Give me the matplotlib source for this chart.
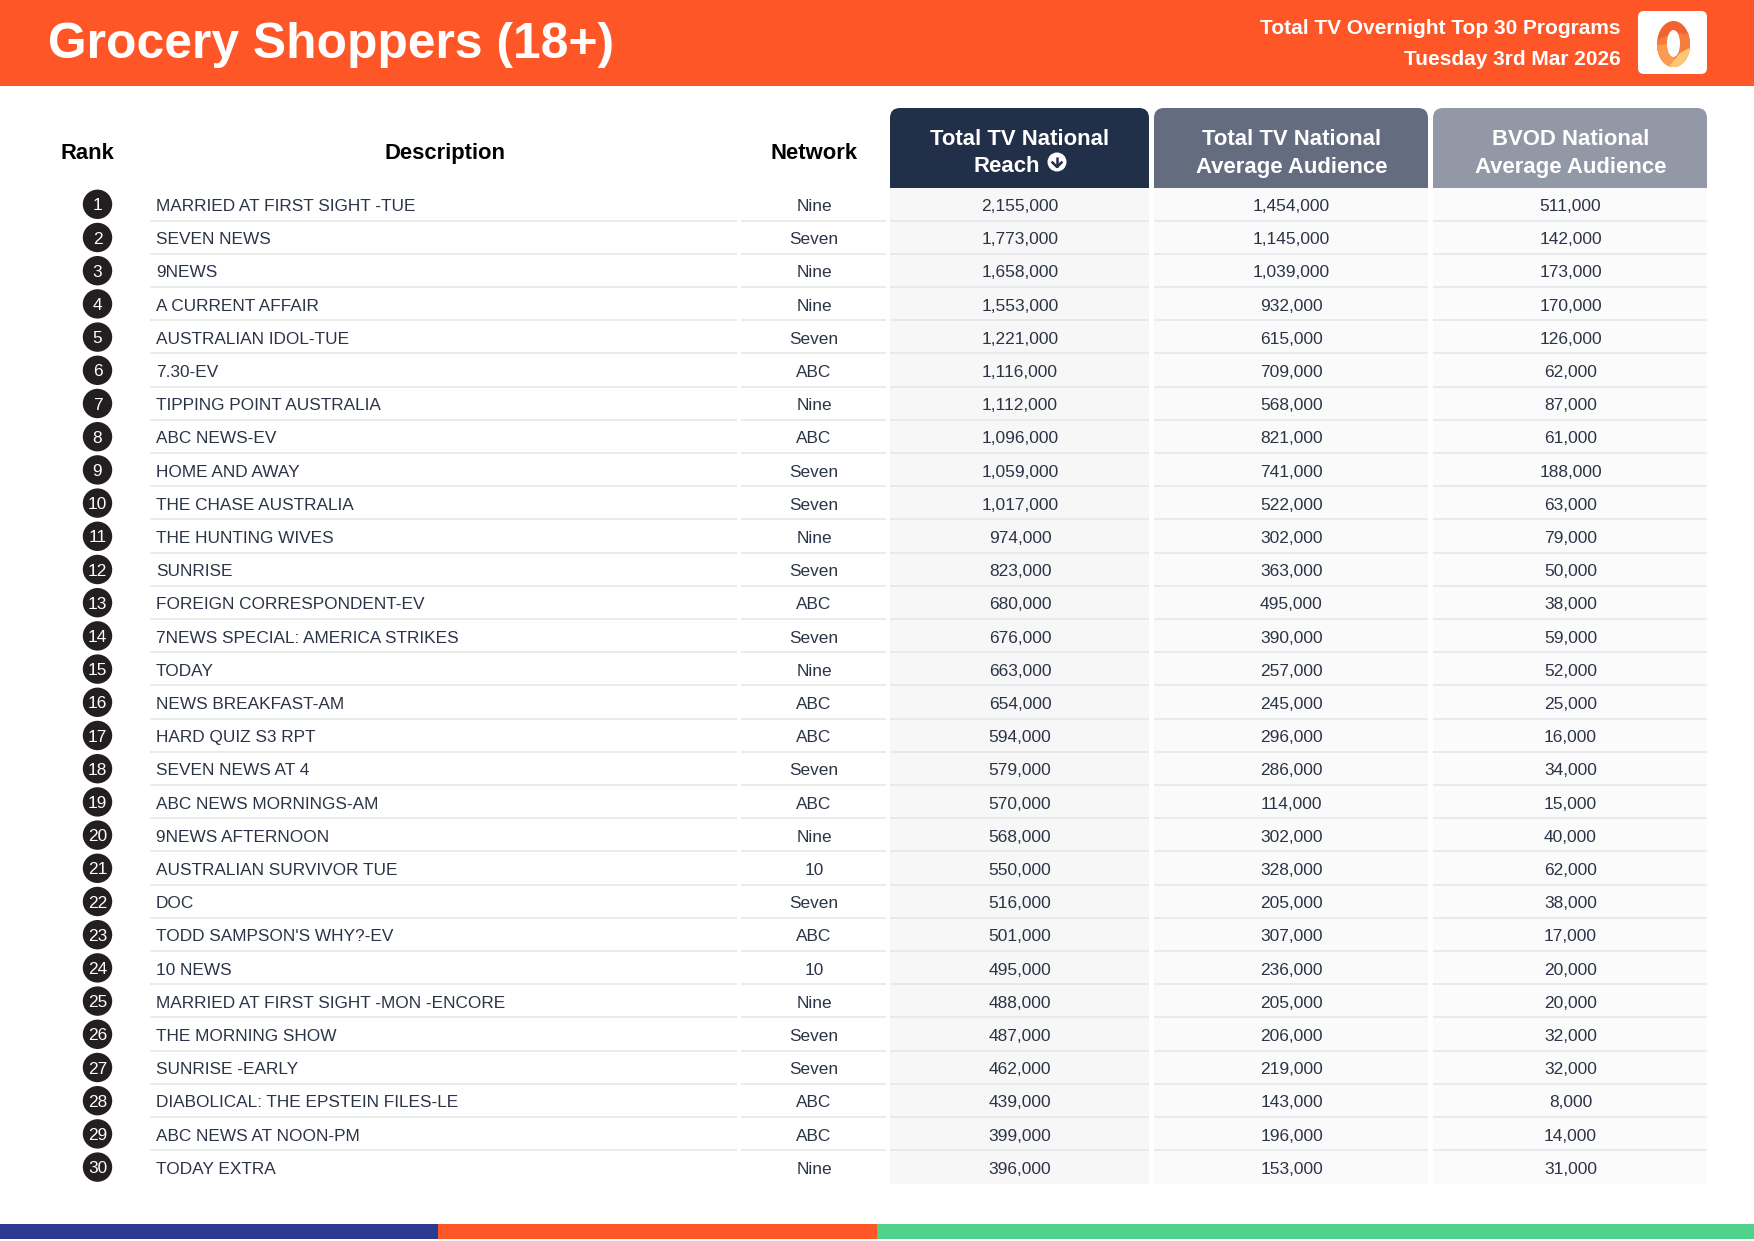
#Grocery shoppers top 30 table

import matplotlib
matplotlib.use("Agg")
import matplotlib.pyplot as plt
from matplotlib.patches import Rectangle, Circle, Ellipse, FancyBboxPatch, Polygon, PathPatch
from matplotlib.path import Path

plt.rcParams['font.family'] = ['Liberation Sans', 'DejaVu Sans']

#Data
programs = ["MARRIED AT FIRST SIGHT -TUE", "SEVEN NEWS", "9NEWS", "A CURRENT AFFAIR", "AUSTRALIAN IDOL-TUE",
            "7.30-EV", "TIPPING POINT AUSTRALIA", "ABC NEWS-EV", "HOME AND AWAY", "THE CHASE AUSTRALIA",
            "THE HUNTING WIVES", "SUNRISE", "FOREIGN CORRESPONDENT-EV", "7NEWS SPECIAL: AMERICA STRIKES", "TODAY",
            "NEWS BREAKFAST-AM", "HARD QUIZ S3 RPT", "SEVEN NEWS AT 4", "ABC NEWS MORNINGS-AM", "9NEWS AFTERNOON",
            "AUSTRALIAN SURVIVOR TUE", "DOC", "TODD SAMPSON'S WHY?-EV", "10 NEWS", "MARRIED AT FIRST SIGHT -MON -ENCORE",
            "THE MORNING SHOW", "SUNRISE -EARLY", "DIABOLICAL: THE EPSTEIN FILES-LE", "ABC NEWS AT NOON-PM", "TODAY EXTRA"]
networks = ["Nine", "Seven", "Nine", "Nine", "Seven", "ABC", "Nine", "ABC", "Seven", "Seven",
            "Nine", "Seven", "ABC", "Seven", "Nine", "ABC", "ABC", "Seven", "ABC", "Nine",
            "10", "Seven", "ABC", "10", "Nine", "Seven", "Seven", "ABC", "ABC", "Nine"]
reach = [2155000, 1773000, 1658000, 1553000, 1221000, 1116000, 1112000, 1096000, 1059000, 1017000,
         974000, 823000, 680000, 676000, 663000, 654000, 594000, 579000, 570000, 568000,
         550000, 516000, 501000, 495000, 488000, 487000, 462000, 439000, 399000, 396000]
avg_aud = [1454000, 1145000, 1039000, 932000, 615000, 709000, 568000, 821000, 741000, 522000,
           302000, 363000, 495000, 390000, 257000, 245000, 296000, 286000, 114000, 302000,
           328000, 205000, 307000, 236000, 205000, 206000, 219000, 143000, 196000, 153000]
bvod_aud = [511000, 142000, 173000, 170000, 126000, 62000, 87000, 61000, 188000, 63000,
            79000, 50000, 38000, 59000, 52000, 25000, 16000, 34000, 15000, 40000,
            62000, 38000, 17000, 20000, 20000, 32000, 32000, 8000, 14000, 31000]

title = "Grocery Shoppers (18+)"
subtitle = ["Total TV Overnight Top 30 Programs", "Tuesday 3rd Mar 2026"]
col_heads = [("Total TV National", None), ("Total TV National", "Average Audience"), ("BVOD National", "Average Audience")]

#Colours
ORANGE = '#FF5627'
BODY = '#2B3446'
RULE = '#E6E7E8'
HEAD_COLS = ['#222F49', '#646C80', '#9298A5']

#Layout in pixels
W, H = 1754, 1241
ROW_H = 33.2
COL_X = [(890, 1149), (1154, 1428), (1433, 1707)]

fig = plt.figure(figsize=(W / 100, H / 100), dpi=100)
ax = fig.add_axes([0, 0, 1, 1])
ax.set_xlim(0, W)
ax.set_ylim(H, 0)
ax.axis('off')

def px(n):
    return n * 0.72

def rounded_top(x0, x1, y0, y1, r, fc):
    verts = [(x0, y1), (x0, y0 + r), (x0, y0), (x0 + r, y0), (x1 - r, y0), (x1, y0), (x1, y0 + r), (x1, y1), (x0, y1)]
    codes = [Path.MOVETO, Path.LINETO, Path.CURVE3, Path.CURVE3, Path.LINETO, Path.CURVE3, Path.CURVE3, Path.LINETO, Path.CLOSEPOLY]
    ax.add_patch(PathPatch(Path(verts, codes), fc=fc, ec='none'))

#Top band
ax.add_patch(Rectangle((0, 0), W, 85.5, fc=ORANGE, ec='none'))
ax.text(48, 57.7, title, color='white', fontsize=px(49.8), fontweight='bold', va='baseline', ha='left')
ax.text(1621, 34.3, subtitle[0], color='white', fontsize=px(20.9), fontweight='bold', va='baseline', ha='right')
ax.text(1621, 65, subtitle[1], color='white', fontsize=px(20.9), fontweight='bold', va='baseline', ha='right')

#Logo
ax.add_patch(FancyBboxPatch((1642, 15), 61, 55, boxstyle='round,pad=4,rounding_size=6', fc='white', ec='none'))
zero = Ellipse((1673.5, 44), 33, 46, fc='#F0622F', ec='none')
ax.add_patch(zero)
for pts, c in [([(1650, 44), (1672, 33), (1695, 34), (1695, 70), (1650, 70)], '#F57E3F'),
               ([(1650, 46), (1668, 44), (1680, 70), (1650, 70)], '#FB9B50'),
               ([(1666, 70), (1680, 53), (1695, 45), (1695, 70)], '#FDC873')]:
    facet = Polygon(pts, closed=True, fc=c, ec='none')
    ax.add_patch(facet)
    facet.set_clip_path(zero)
ax.add_patch(Ellipse((1673.5, 43.5), 13, 27, fc='white', ec='none'))

#Column heads
for x, lab in [(87, "Rank"), (445, "Description"), (814, "Network")]:
    ax.text(x, 159, lab, color='black', fontsize=px(22), fontweight='bold', ha='center', va='baseline')

for (x0, x1), hc, (line1, line2) in zip(COL_X, HEAD_COLS, col_heads):
    rounded_top(x0, x1, 108, 188, 10, hc)
    ax.text((x0 + x1) / 2 + 0.5, 145, line1, color='white', fontsize=px(22.1), fontweight='bold', ha='center', va='baseline')
    if line2:
        ax.text((x0 + x1) / 2 + 0.5, 172.5, line2, color='white', fontsize=px(22.1), fontweight='bold', ha='center', va='baseline')

#Reach label sits next to the sort arrow
ax.text(1040, 171.5, "Reach", color='white', fontsize=px(22.1), fontweight='bold', ha='right', va='baseline')
ax.add_patch(Circle((1057, 162), 9.5, fc='white', ec='none'))
ax.plot([1057, 1057], [156.5, 167], color=HEAD_COLS[0], lw=1.8, solid_capstyle='butt')
ax.plot([1052.5, 1057, 1061.5], [162.5, 167, 162.5], color=HEAD_COLS[0], lw=1.8)

#Rows
for i in range(len(programs)):
    top = 188 + i * ROW_H
    base = 211 + i * ROW_H
    for (x0, x1), fc in zip(COL_X, ['#F7F7F7', '#FAFAFA', '#FBFBFB']):
        ax.add_patch(Rectangle((x0, top), x1 - x0, ROW_H, fc=fc, ec='none'))
    if i < len(programs) - 1:
        rule_y = 220.5 + i * ROW_H
        for x0, x1 in [(150, 737), (740.5, 886)] + COL_X:
            ax.plot([x0, x1], [rule_y, rule_y], color=RULE, lw=1.2, solid_capstyle='butt')

    yc = 204.3 + i * ROW_H
    ax.add_patch(Circle((97.5, yc), 14.7, fc='#231F20', ec='none'))
    ax.text(97.5, yc + 6, str(i + 1), color='white', fontsize=px(17.2), ha='center', va='baseline')
    ax.text(156, base, programs[i], color=BODY, fontsize=px(17.3), ha='left', va='baseline')
    ax.text(814, base, networks[i], color=BODY, fontsize=px(17.3), ha='center', va='baseline')
    for (x0, x1), vals in zip(COL_X, [reach, avg_aud, bvod_aud]):
        ax.text((x0 + x1) / 2 + 0.5, base, f"{vals[i]:,}", color=BODY, fontsize=px(17.4), ha='center', va='baseline')

#Bottom band
for x0, x1, c in [(0, 438, '#2B3990'), (438, 877, ORANGE), (877, W, '#50D28B')]:
    ax.add_patch(Rectangle((x0, 1224), x1 - x0, 15, fc=c, ec='none'))

fig.savefig('out.png', dpi=100)
